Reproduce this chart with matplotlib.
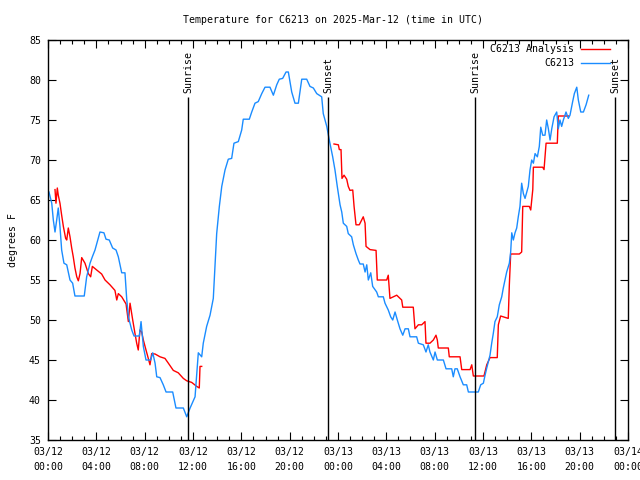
import matplotlib
matplotlib.use("Agg")
import matplotlib.pyplot as plt
from matplotlib.lines import Line2D

# Podaci (sati od 2025-03-12 00:00 UTC)
obs_hours = [0.08, 0.31, 0.44, 0.58, 0.72, 0.85, 0.99, 1.13, 1.32, 1.55, 1.82, 2.04, 2.23, 3.00,
             3.20, 3.48, 3.67, 3.89, 4.30, 4.63, 4.80, 5.07, 5.35, 5.63, 5.82, 6.10, 6.37, 6.51,
             6.65, 6.93, 7.12, 7.56, 7.70, 7.89, 8.11, 8.50, 8.67, 8.86, 9.00, 9.27, 9.54, 9.77,
             10.32, 10.59, 11.20, 11.48, 11.76, 12.17, 12.44, 12.72, 12.85, 13.13, 13.41, 13.68,
             13.82, 13.96, 14.18, 14.38, 14.65, 14.92, 15.20, 15.39, 15.75, 16.03, 16.16, 16.66,
             16.86, 17.13, 17.40, 17.69, 17.96, 18.37, 18.65, 18.93, 19.14, 19.42, 19.70, 19.89,
             20.17, 20.44, 20.72, 21.00, 21.41, 21.68, 21.96, 22.24, 22.65, 22.78, 23.07, 23.28,
             23.56, 23.75, 23.94, 24.17, 24.31, 24.44, 24.72, 24.85, 25.13, 25.27, 25.49, 25.68,
             25.82, 26.09, 26.24, 26.38, 26.51, 26.71, 26.87, 27.20, 27.34, 27.75, 27.89, 28.16,
             28.36, 28.53, 28.72, 28.91, 29.13, 29.36, 29.55, 29.82, 29.96, 30.51, 30.65, 31.06,
             31.28, 31.47, 31.61, 31.89, 32.03, 32.22, 32.72, 32.94, 33.41, 33.54, 33.68, 33.87,
             34.10, 34.37, 34.65, 34.79, 35.61, 35.81, 36.03, 36.17, 36.31, 36.58, 36.72, 36.85,
             36.99, 37.18, 37.35, 37.55, 37.68, 37.82, 37.96, 38.18, 38.29, 38.38, 38.51, 38.65,
             38.79, 38.92, 39.06, 39.20, 39.34, 39.48, 39.62, 39.75, 39.89, 40.03, 40.17, 40.31,
             40.50, 40.66, 40.78, 40.94, 41.13, 41.27, 41.41, 41.55, 41.69, 41.88, 42.10, 42.23,
             42.37, 42.51, 42.65, 42.87, 43.06, 43.20, 43.42, 43.56, 43.76, 43.89, 44.09, 44.31,
             44.53, 44.75]
obs_temp = [66.0, 64.6, 62.5, 61.0, 62.5, 64.0, 61.7, 58.75, 57.1, 56.9, 55.0, 54.6, 53.0, 53.0,
            55.4, 57.1, 57.9, 58.75, 61.0, 60.9, 60.1, 60.0, 59.0, 58.75, 57.9, 55.9, 55.9, 52.7,
            50.4, 48.75, 48.0, 48.0, 49.8, 46.7, 45.0, 45.0, 45.9, 44.6, 42.9, 42.8, 41.9, 41.0,
            41.0, 39.0, 39.0, 37.9, 39.0, 40.4, 45.9, 45.4, 47.1, 49.2, 50.6, 52.7,
            56.7, 60.8, 64.2, 66.7, 68.75, 70.1, 70.2, 72.1, 72.3, 73.75, 75.1, 75.1,
            76.0, 77.1, 77.3, 78.3, 79.1, 79.1, 78.1, 79.4, 80.1, 80.2, 81.0, 81.0,
            78.5, 77.1, 77.1, 80.1, 80.1, 79.2, 79.0, 78.3, 77.9, 75.8, 74.2, 72.5,
            70.4, 68.75, 66.7, 64.4, 63.5, 62.1, 61.7, 60.8, 60.4, 59.4, 58.3, 57.5,
            57.0, 57.0, 56.0, 56.9, 55.0, 55.9, 54.2, 53.5, 52.9, 52.9, 52.1, 51.25,
            50.4, 50.0, 51.0, 50.0, 48.9, 48.1, 48.9, 48.9, 47.9, 47.9, 47.1, 46.9,
            46.0, 46.9, 46.0, 45.0, 46.0, 45.0, 45.0, 43.9, 43.9, 42.9, 43.9, 43.9,
            42.9, 41.9, 41.9, 41.0, 41.0, 41.9, 42.1, 43.1, 44.0, 45.6, 47.1, 48.3,
            49.8, 50.4, 51.9, 52.9, 54.0, 55.0, 56.0, 57.1, 58.5, 60.9, 60.0, 60.9,
            61.5, 62.9, 64.2, 67.1, 65.8, 65.2, 66.0, 66.7, 68.75, 70.0, 69.6, 70.8,
            70.4, 71.7, 74.1, 73.1, 73.1, 75.0, 73.9, 72.5, 73.9, 75.4, 76.0, 73.9,
            75.0, 74.2, 75.0, 76.0, 75.2, 75.6, 77.3, 78.3, 79.1, 77.5, 76.0, 76.0,
            76.9, 78.1]

ana1_hours = [0.58, 0.66, 0.77, 0.85, 0.99, 1.13, 1.27, 1.46, 1.55, 1.68, 1.82, 1.96, 2.09, 2.23,
              2.38, 2.51, 2.65, 2.79, 3.06, 3.34, 3.53, 3.67, 4.03, 4.44, 4.72, 5.13, 5.54, 5.69,
              5.82, 6.10, 6.46, 6.65, 6.79, 7.01, 7.20, 7.34, 7.47, 7.61, 7.75, 7.89, 8.11, 8.30,
              8.44, 8.58, 8.86, 9.27, 9.68, 9.96, 10.37, 10.78, 11.20, 11.48, 11.89, 12.31, 12.52,
              12.58, 12.72]
ana1_temp = [66.3, 64.6, 66.5, 65.6, 64.6, 63.1, 61.7, 60.2, 60.0, 61.5, 60.4, 59.0, 57.9, 56.5,
             55.4, 54.9, 55.8, 57.8, 57.1, 55.8, 55.4, 56.7, 56.25, 55.75, 55.0, 54.4, 53.7, 52.5,
             53.3, 52.9, 52.0, 49.8, 52.1, 50.0, 48.3, 47.1, 46.25, 48.75, 48.5, 47.5, 46.25, 45.2,
             44.4, 45.8, 45.75, 45.4, 45.2, 44.6, 43.7, 43.4, 42.7, 42.4, 42.2, 41.7, 41.5,
             44.2, 44.2]

ana2_hours = [23.67, 24.03, 24.11, 24.25, 24.33, 24.50, 24.72, 24.85, 24.99, 25.22, 25.33, 25.49,
              25.76, 25.96, 26.09, 26.24, 26.32, 26.65, 27.15, 27.25, 28.03, 28.16, 28.30, 28.86,
              29.27, 29.36, 30.23, 30.37, 30.65, 30.93, 31.20, 31.28, 31.61, 31.89, 32.11, 32.22,
              32.30, 33.13, 33.21, 34.10, 34.24, 34.93, 35.07, 35.20, 36.08, 36.31, 36.58, 37.18,
              37.27, 37.46, 38.09, 38.18, 38.29, 39.01, 39.20, 39.29, 39.83, 39.95, 40.12, 40.17,
              40.94, 41.05, 41.22, 42.15, 42.23, 43.06]
ana2_temp = [72.0, 71.9, 71.3, 71.3, 67.7, 68.1, 67.6, 66.7, 66.2, 66.25, 64.2, 61.9,
             61.9, 62.5, 62.9, 62.1, 59.2, 58.8, 58.7, 55.0, 55.0, 55.6, 52.7, 53.1,
             52.5, 51.6, 51.6, 48.9, 49.4, 49.4, 49.8, 47.1, 47.1, 47.5, 48.1, 47.5,
             46.5, 46.5, 45.4, 45.4, 43.8, 43.8, 44.4, 43.0, 43.0, 44.4, 45.3, 45.3,
             49.4, 50.5, 50.2, 54.4, 58.25, 58.25, 58.5, 64.2, 64.2, 63.75, 66.3, 69.1,
             69.1, 68.8, 72.1, 72.1, 75.5, 75.5]

sun_events = ["Sunrise", "Sunset", "Sunrise", "Sunset"]
sun_hours = [11.58, 23.18, 35.35, 46.94]

tick_hours = list(range(0, 49, 4))
tick_labels = ["03/12\n00:00", "03/12\n04:00", "03/12\n08:00", "03/12\n12:00", "03/12\n16:00",
               "03/12\n20:00", "03/13\n00:00", "03/13\n04:00", "03/13\n08:00", "03/13\n12:00",
               "03/13\n16:00", "03/13\n20:00", "03/14\n00:00"]

plt.rcParams["font.family"] = "DejaVu Sans Mono"
FS = 7.1
plt.rcParams["font.size"] = FS

RED = "#FF0000"
BLUE = "#1A8CFF"

fig = plt.figure(figsize=(6.4, 4.8), dpi=100)
ax = fig.add_axes([48/640, 1 - 440/480, 580/640, 400/480])

ax.plot(ana1_hours, ana1_temp, color=RED, linewidth=1.0)
ax.plot(ana2_hours, ana2_temp, color=RED, linewidth=1.0)
ax.plot(obs_hours, obs_temp, color=BLUE, linewidth=1.0)

ax.set_xlim(0, 48)
ax.set_ylim(35, 85)

# Izlazak / zalazak sunca
for name, h in zip(sun_events, sun_hours):
    ax.vlines(h, 35, 77.9, color="black", linewidth=1.0)
    ax.text(h, 78.4, name, rotation=90, ha="center", va="bottom", fontsize=FS)

ax.set_xticks(tick_hours)
ax.set_xticklabels(tick_labels, linespacing=1.6)
ax.set_xticks(range(0, 49), minor=True)
ax.set_yticks(range(35, 86, 5))
ax.tick_params(axis="both", which="major", direction="in", length=6, width=0.8,
               top=True, right=True, pad=5)
ax.tick_params(axis="x", which="minor", direction="in", length=3, width=0.8, top=True)
for sp in ax.spines.values():
    sp.set_linewidth(1.0)

ax.set_ylabel("degrees F", labelpad=8)
fig.text(333/640, 1 - 20/480, "Temperature for C6213 on 2025-Mar-12 (time in UTC)",
         ha="center", va="center", fontsize=FS)

# Legenda (ručno, kao u gnuplotu)
legend_labels = ["C6213 Analysis", "C6213"]
legend_colors = [RED, BLUE]
for i, (lab, col) in enumerate(zip(legend_labels, legend_colors)):
    ypix = 49 + 14 * i
    fig.text(574/640, 1 - ypix/480, lab, ha="right", va="center", fontsize=FS)
    fig.add_artist(Line2D([581/640, 610/640], [1 - ypix/480, 1 - ypix/480],
                          color=col, linewidth=1.0, transform=fig.transFigure))

fig.savefig("out.png", dpi=100)
